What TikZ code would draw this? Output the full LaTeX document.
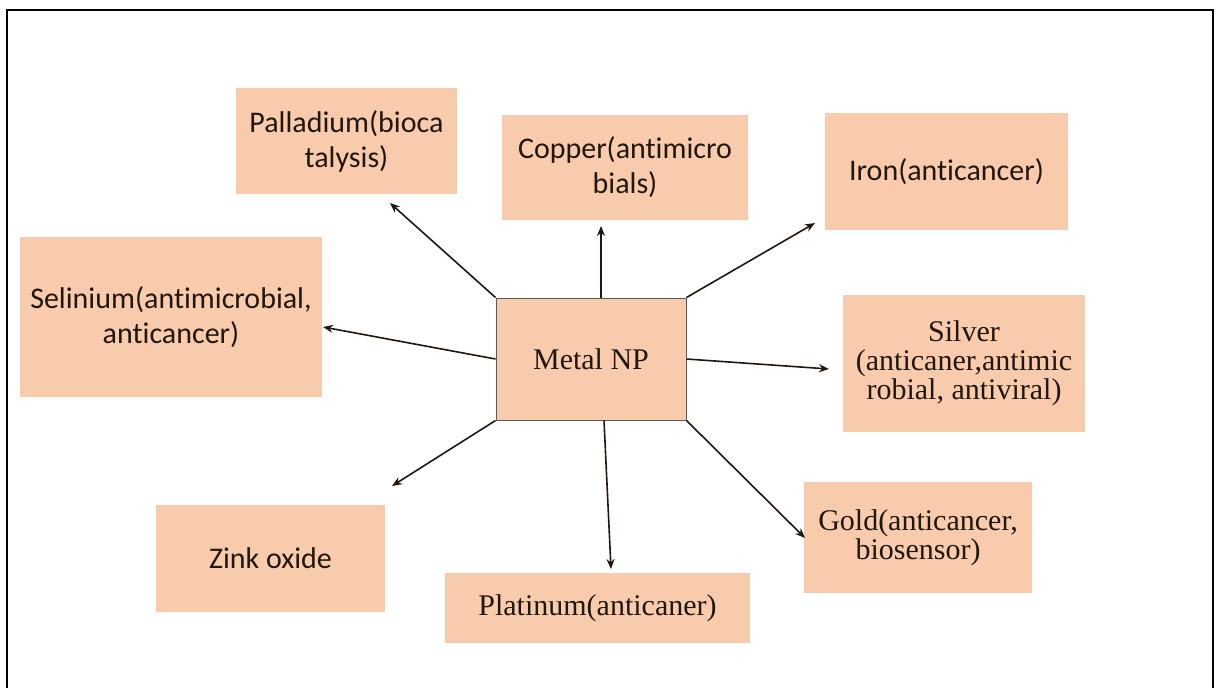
\documentclass[tikz,border=0pt]{standalone}
\usepackage{fontspec}
\setmainfont{Liberation Serif}
\newfontfamily\calfont[Ligatures=NoCommon]{Carlito}
\usetikzlibrary{arrows.meta}
\definecolor{peach}{HTML}{F8CBAD}
\definecolor{ink}{HTML}{21170F}
\begin{document}
\begin{tikzpicture}[x=0.5pt,y=-0.5pt,
  box/.style={fill=peach, inner sep=0pt, align=center, text=ink,
    font=\calfont\fontsize{15}{17.5}\selectfont},
  sbox/.style={box, font=\fontsize{15}{14.5}\selectfont},
  arr/.style={draw=ink, line width=0.8pt, -{Stealth[length=5pt,width=4pt]}}]
\useasboundingbox (0,0) rectangle (1214,687);
\draw[line width=1pt] (7,700) -- (7,10) -- (1213,10) -- (1213,700);

\node[box, minimum width=110.5pt, minimum height=53pt] (pd) at (346.5,141) {Palladium(bioca\\talysis)};
\node[box, minimum width=123pt, minimum height=52.5pt] (cu) at (625,167.5) {Copper(antimicro\\bials)};
\node[box, minimum width=121.5pt, minimum height=58.5pt] (fe) at (946.5,171.5) {Iron(anticancer)};
\node[box, minimum width=151pt, minimum height=80pt] (se) at (171,317) {Selinium(antimicrobial,\\anticancer)};
\node[sbox, minimum width=121pt, minimum height=68.5pt] (ag) at (964,363.5) {Silver\\(anticaner,antimic\\robial, antiviral)};
\node[box, minimum width=114.5pt, minimum height=53.5pt] (zn) at (270.5,558.5) {Zink oxide};
\node[sbox, minimum width=152.5pt, minimum height=35pt] (pt) at (597.5,608) {Platinum(anticaner)};
\node[sbox, minimum width=114pt, minimum height=55.5pt] (au) at (918,537.5) {Gold(anticancer,\\biosensor)};
\node[sbox, draw=black!65, line width=0.5pt, minimum width=95pt, minimum height=61pt] (np) at (591,359) {Metal NP};

\coordinate (pdTip) at (390,203);
\coordinate (cuTip) at (601,226);
\coordinate (feTip) at (815,223);
\coordinate (seTip) at (323,327);
\coordinate (agTip) at (829,369);
\coordinate (znTip) at (392,486);
\coordinate (ptTip) at (611,569);
\coordinate (auTip) at (805,538);

\draw[arr] (np.north west) -- (pdTip);
\draw[arr] (np.north -| cuTip) -- (cuTip);
\draw[arr] (np.north east) -- (feTip);
\draw[arr] (np.west) -- (seTip);
\draw[arr] (np.east) -- (agTip);
\draw[arr] (np.south west) -- (znTip);
\draw[arr] ([xshift=6.5pt]np.south) -- (ptTip);
\draw[arr] (np.south east) -- (auTip);
\end{tikzpicture}
\end{document}
